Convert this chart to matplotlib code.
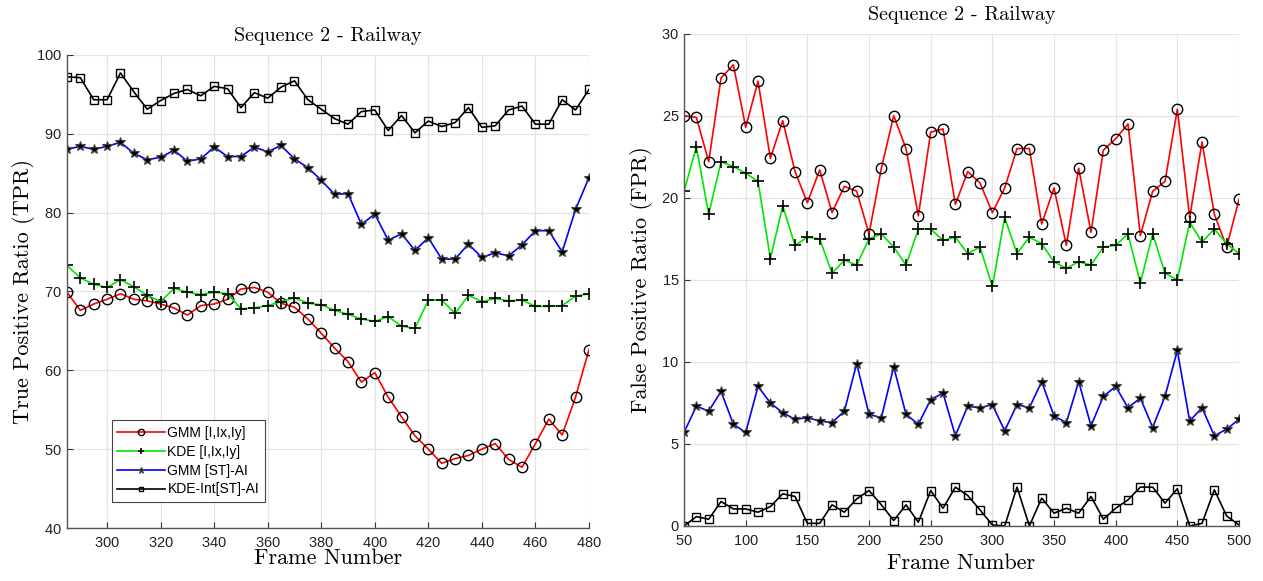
import numpy as np
import matplotlib
matplotlib.use("Agg")
import matplotlib.pyplot as plt

# ---------------- Data: left panel (TPR) ----------------
frames_tpr = list(range(285, 481, 5))
tpr_gmm_ixy = [69.9, 67.6, 68.4, 69.0, 69.7, 69.0, 68.8, 68.4, 67.9, 67.0, 68.2, 68.4, 69.0, 70.3, 70.5,
               69.9, 68.5, 68.0, 66.5, 64.7, 62.8, 61.1, 58.5, 59.7, 56.6, 54.1, 51.7, 50.0, 48.2, 48.8,
               49.2, 50.0, 50.7, 48.7, 47.7, 50.7, 53.8, 51.8, 56.6, 62.6]
tpr_kde_ixy = [73.3, 71.7, 70.9, 70.5, 71.5, 70.6, 69.5, 68.7, 70.4, 69.9, 69.6, 69.9, 69.7, 67.8, 67.9,
               68.2, 68.7, 69.2, 68.5, 68.3, 67.6, 67.1, 66.5, 66.2, 66.8, 65.6, 65.3, 68.9, 68.9, 67.2,
               69.5, 68.7, 69.1, 68.8, 68.9, 68.1, 68.1, 68.2, 69.4, 69.7]
tpr_gmm_st = [88.0, 88.4, 88.0, 88.4, 88.9, 87.5, 86.7, 87.0, 87.9, 86.5, 86.8, 88.3, 87.1, 87.1, 88.3,
              87.7, 88.5, 86.8, 85.7, 84.1, 82.3, 82.4, 78.5, 79.8, 76.5, 77.3, 75.2, 76.8, 74.1, 74.1,
              76.0, 74.3, 74.9, 74.5, 75.9, 77.7, 77.7, 75.0, 80.4, 84.4]
tpr_kde_st = [97.2, 97.1, 94.3, 94.3, 97.7, 95.3, 93.1, 94.2, 95.1, 95.6, 94.8, 96.0, 95.7, 93.3, 95.2,
              94.5, 95.9, 96.7, 94.3, 93.1, 91.9, 91.2, 92.8, 93.0, 90.4, 92.3, 90.1, 91.6, 90.9, 91.4,
              93.3, 90.8, 91.0, 93.0, 93.5, 91.2, 91.2, 94.3, 93.0, 95.6]

# ---------------- Data: right panel (FPR) ----------------
frames_fpr = list(range(50, 501, 10))
fpr_gmm_ixy = [25.0, 24.9, 22.2, 27.3, 28.1, 24.3, 27.1, 22.4, 24.7, 21.6, 19.7, 21.7, 19.1, 20.7, 20.4,
               17.8, 21.8, 25.0, 23.0, 18.9, 24.0, 24.2, 19.6, 21.6, 20.9, 19.1, 20.6, 23.0, 23.0, 18.4,
               20.6, 17.1, 21.8, 17.9, 22.9, 23.6, 24.5, 17.7, 20.4, 21.0, 25.4, 18.8, 23.4, 19.0, 17.0, 19.9]
fpr_kde_ixy = [20.4, 23.1, 19.0, 22.2, 21.9, 21.5, 21.0, 16.3, 19.5, 17.1, 17.6, 17.5, 15.4, 16.2, 15.9,
               17.5, 17.8, 17.0, 15.9, 18.1, 18.1, 17.4, 17.6, 16.6, 17.0, 14.6, 18.8, 16.6, 17.6, 17.2,
               16.1, 15.7, 16.1, 15.9, 17.0, 17.1, 17.8, 14.8, 17.8, 15.4, 15.0, 18.5, 17.3, 18.1, 17.2, 16.6]
fpr_gmm_st = [5.7, 7.3, 7.0, 8.2, 6.2, 5.7, 8.5, 7.5, 6.9, 6.5, 6.6, 6.4, 6.3, 7.0, 9.9,
              6.8, 6.6, 9.7, 6.8, 6.2, 7.7, 8.1, 5.5, 7.3, 7.2, 7.4, 5.8, 7.4, 7.2, 8.8,
              6.7, 6.3, 8.8, 6.1, 7.9, 8.5, 7.2, 7.8, 6.0, 7.9, 10.7, 6.4, 7.2, 5.5, 5.9, 6.5]
fpr_kde_st = [0.0, 0.57, 0.41, 1.49, 1.04, 1.04, 0.84, 1.18, 1.96, 1.80, 0.16, 0.16, 1.29, 0.84, 1.65,
              2.16, 1.29, 0.33, 1.29, 0.23, 2.16, 1.08, 2.37, 1.86, 0.98, 0.06, 0.0, 2.37, 0.0, 1.70,
              0.78, 1.08, 0.78, 1.80, 0.41, 1.08, 1.59, 2.37, 2.37, 1.39, 2.27, 0.0, 0.16, 2.20, 0.61, 0.06]

labels = ["GMM [I,Ix,Iy]", "KDE [I,Ix,Iy]", "GMM [ST]-AI", "KDE-Int[ST]-AI"]
title = "Sequence 2 - Railway"

serif = "cmr10"
sans = "Liberation Sans"
plt.rcParams["font.family"] = sans
plt.rcParams["axes.formatter.use_mathtext"] = True

fig = plt.figure(figsize=(12.63, 5.81), dpi=100)
axL = fig.add_axes([0.053, 0.0912, 0.4133, 0.8145])
axR = fig.add_axes([0.5416, 0.0947, 0.4394, 0.8473])

styles = [
    dict(color="#ff0000", marker="o", mfc="none", mec="black", ms=7.5, mew=1.0),
    dict(color="#00e600", marker="+", mfc="none", mec="black", ms=8, mew=1.2),
    dict(color="#0000ff", marker="*", mfc="black", mec="#444444", ms=7.5, mew=0.8),
    dict(color="black", marker="s", mfc="none", mec="black", ms=6, mew=1.0),
]

for series, st, lab in zip([tpr_gmm_ixy, tpr_kde_ixy, tpr_gmm_st, tpr_kde_st], styles, labels):
    axL.plot(frames_tpr, series, lw=1.2, label=lab, **st)
for series, st, lab in zip([fpr_gmm_ixy, fpr_kde_ixy, fpr_gmm_st, fpr_kde_st], styles, labels):
    axR.plot(frames_fpr, series, lw=1.2, label=lab, **st)

axL.set_xlim(285, 480)
axL.set_ylim(40, 100)
axL.set_xticks(range(300, 481, 20))
axL.set_yticks(range(40, 101, 10))
axR.set_xlim(50, 500)
axR.set_ylim(0, 30)
axR.set_xticks(range(50, 501, 50))
axR.set_yticks(range(0, 31, 5))

for ax, yl, xpad, ypad in [(axL, "True Positive Ratio (TPR)", -1, 1), (axR, "False Positive Ratio (FPR)", 4, 6)]:
    ax.grid(True, color="#e3e3e3", lw=0.9)
    ax.set_axisbelow(True)
    for s in ["top", "right"]:
        ax.spines[s].set_visible(False)
    for s in ["left", "bottom"]:
        ax.spines[s].set_color("#555555")
        ax.spines[s].set_linewidth(1.0)
    ax.tick_params(direction="in", length=4, labelsize=10.5, colors="#333333", labelcolor="#222222")
    ax.tick_params(axis="x", pad=6)
    ax.set_xlabel("Frame Number", family=serif, fontsize=16, labelpad=xpad)
    ax.set_ylabel(yl, family=serif, fontsize=16, labelpad=ypad)
    ax.set_title(title, family=serif, fontsize=14.5, pad=10)

leg = axL.legend(loc="lower left", bbox_to_anchor=(0.086, 0.055), borderaxespad=0, fontsize=10,
                 frameon=True, fancybox=False, edgecolor="#444444", framealpha=1, handlelength=3.4,
                 borderpad=0.4, labelspacing=0.35, handletextpad=0.2, markerscale=0.6)
leg.get_frame().set_linewidth(0.8)

fig.savefig("out.png", dpi=100)
